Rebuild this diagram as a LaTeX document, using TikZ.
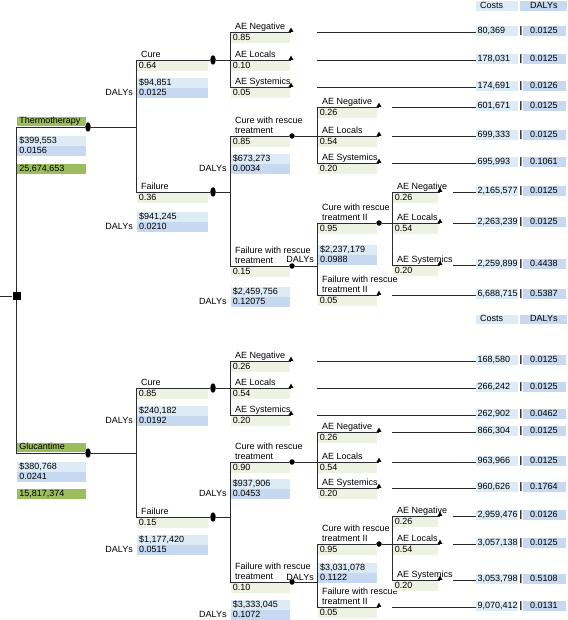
\documentclass[tikz,border=0pt]{standalone}
\usepackage{fontspec}
\setmainfont{Liberation Sans}
\usetikzlibrary{shapes.geometric,positioning}
\definecolor{Leaf}{HTML}{9CBD5C}
\definecolor{Pale}{HTML}{EEF2E2}
\definecolor{Sky}{HTML}{DCEBF5}
\definecolor{Steel}{HTML}{C6D9F0}
\definecolor{Wire}{HTML}{2B2B2B}
\tikzset{
  base/.style={font=\fontsize{9}{9.4}\selectfont,inner sep=0pt},
  branch/.style={base,anchor=south west,align=left,text depth=0pt},
  cell/.style={base,anchor=north west,inner xsep=2pt,minimum height=9.5pt,text height=6.5pt,text depth=1.8pt,align=left},
  prob/.style={cell,fill=Pale},
  cost/.style={cell,fill=Sky},
  daly/.style={cell,fill=Steel},
  arm/.style={cell,fill=Leaf},
  decision/.style={rectangle,fill=black,minimum size=8pt,inner sep=0pt},
  chanceA/.style={ellipse,fill=black,minimum width=5.5pt,minimum height=9.5pt,inner sep=0pt},
  chanceB/.style={circle,fill=black,minimum size=5.5pt,inner sep=0pt},
  term/.style={regular polygon,regular polygon sides=3,fill=black,minimum size=5.5pt,inner sep=0pt,anchor=south},
  edge/.style={Wire,line width=0.9pt}
}
\begin{document}
\begin{tikzpicture}[x=1pt,y=-1pt]
        \useasboundingbox (0,0) rectangle (567,620);
        \node[decision] (root) at (16.5,296) {};
        \coordinate (start) at (0,296);
        \foreach \n/\x/\y/\j in {Tc/88/127/136,Gc/88/453/136,TCu/213/60/230,TFa/213/192/230,GCu/213/388/230,GFa/213/517/230}
          {\node[chanceA] (\n) at (\x,\y) {}; \coordinate (J\n) at (\j,\y);}
        \foreach \n/\x/\y/\j in {TCr/292/136/317,TFr/292/266/317,GCr/292/462/317,GFr/292/582/317,TCr2/379/223/392,GCr2/379/544/392}
          {\node[chanceB] (\n) at (\x,\y) {}; \coordinate (J\n) at (\j,\y);}
        \foreach \n/\x/\y in {a1/291/32,a2/291/60,a3/291/87,a4/379/107,a5/379/136,a6/379/163,a7/440/192,a8/440/223,a9/440/265,a10/379/295,b1/291/361,b2/291/388,b3/291/415,b4/379/432,b5/379/462,b6/379/488,b7/440/516,b8/440/544,b9/440/580,b10/379/607}
          \node[term] (\n) at (\x,\y) {};

        \node[arm,anchor=south west,text width=65pt] (Tlab) at (17.2,126.5) {Thermotherapy};
        \node[arm,anchor=south west,text width=65pt] (Glab) at (17.2,452.5) {Glucantime};
        \node[arm,text width=65pt] (Tnet) at (17.2,164) {25,674,653};
        \node[arm,text width=65pt] (Gnet) at (17.2,489) {15,817,374};
        \foreach \n/\y/\c/\d in {Tc/136/{\$399,553}/0.0156,Gc/462/{\$380,768}/0.0241}
          {\node[cost,text width=65pt] (\n-c) at (17.2,\y) {\c};
           \node[daly,text width=65pt] (\n-d) at (\n-c.south west) {\d};}
        \foreach \n/\x/\y/\w/\c/\d in {TCu/137/78/67/{\$94,851}/0.0125,TFa/137/212/67/{\$941,245}/0.0210,GCu/137/406/67/{\$240,182}/0.0192,GFa/137/535/67/{\$1,177,420}/0.0515,TCr/230.7/154/55/{\$673,273}/0.0034,TFr/230.7/287/55/{\$2,459,756}/0.12075,GCr/230.7/479/55/{\$937,906}/0.0453,GFr/230.7/600/55/{\$3,333,045}/0.1072,TCr2/318/245/55/{\$2,237,179}/0.0988,GCr2/318/563/55/{\$3,031,078}/0.1122}
          {\node[cost,text width=\w pt] (\n-c) at (\x,\y) {\c};
           \node[daly,text width=\w pt] (\n-d) at (\n-c.south west) {\d};
           \node[base,anchor=east] (\n-l) at ([xshift=-4pt]\n-d.west) {DALYs};}

        \foreach \x/\y/\w/\t/\p [count=\i] in {136/60/67/Cure/0.64,136/192/67/Failure/0.36,136/388/67/Cure/0.85,136/517/67/Failure/0.15,
            230/32/55/AE Negative/0.85,230/60/55/AE Locals/0.10,230/87/55/AE Systemics/0.05,230/136/55/{Cure with rescue\\treatment}/0.85,230/266/55/{Failure with rescue\\treatment}/0.15,
            230/361/55/AE Negative/0.26,230/388/55/AE Locals/0.54,230/415/55/AE Systemics/0.20,230/462/55/{Cure with rescue\\treatment}/0.90,230/582/55/{Failure with rescue\\treatment}/0.10,
            317/107/55/AE Negative/0.26,317/136/55/AE Locals/0.54,317/163/55/AE Systemics/0.20,317/223/55/{Cure with rescue\\treatment II}/0.95,317/295/55/{Failure with rescue\\treatment II}/0.05,
            317/432/55/AE Negative/0.26,317/462/55/AE Locals/0.54,317/488/55/AE Systemics/0.20,317/544/55/{Cure with rescue\\treatment II}/0.95,317/607/55/{Failure with rescue\\treatment II}/0.05,
            392/192/41/AE Negative/0.26,392/223/41/AE Locals/0.54,392/265/41/AE Systemics/0.20,392/516/41/AE Negative/0.26,392/544/41/AE Locals/0.54,392/580/41/AE Systemics/0.20}
          {\node[branch] (lab\i) at (\x+5,\y-2.5) {\t};
           \node[prob,text width=\w pt] (pr\i) at (\x+0.7,\y+1) {\p};}

        \foreach \n/\y in {1/6,2/319.5}
          {\node[cost,anchor=west,inner xsep=4pt,text width=34pt] (hc\n) at (476,\y) {Costs};
           \node[daly,anchor=west,inner xsep=10pt,text width=27pt] (hd\n) at (520,\y) {DALYs};}
        \foreach \n/\x/\y/\c/\d in {1/317/32/{80,369}/0.0125,2/317/60/{178,031}/0.0125,3/317/87/{174,691}/0.0126,4/392/107/{601,671}/0.0125,5/392/136/{699,333}/0.0125,6/392/163/{695,993}/0.1061,7/453/192/{2,165,577}/0.0125,8/453/223/{2,263,239}/0.0125,9/453/265/{2,259,899}/0.4438,10/392/295/{6,688,715}/0.5387,
            11/317/361/{168,580}/0.0125,12/317/388/{266,242}/0.0125,13/317/415/{262,902}/0.0462,14/392/432/{866,304}/0.0125,15/392/462/{963,966}/0.0125,16/392/488/{960,626}/0.1764,17/453/516/{2,959,476}/0.0126,18/453/544/{3,057,138}/0.0125,19/453/580/{3,053,798}/0.5108,20/392/607/{9,070,412}/0.0131}
          {\coordinate (e\n) at (\x,\y);
           \node[cost,anchor=west,inner xsep=1.5pt,text width=39pt] (c\n) at (476,\y-1) {\c};
           \node[base,font=\fontsize{9.5}{9.5}\selectfont\bfseries] (bar\n) at (521,\y-1) {|};
           \node[daly,anchor=west,inner xsep=7pt,text width=29pt] (d\n) at (523,\y-1) {\d};
           \draw[edge] (e\n) -- (e\n -| c\n.west);}

        \draw[edge] (start) -- (root);
        \draw[edge] (root) |- (Tc);
        \draw[edge] (root) |- (Gc);
        \foreach \n in {Tc,Gc,TCu,TFa,GCu,GFa,TCr,TFr,GCr,GFr,TCr2,GCr2}
          \draw[edge] (\n) -- (J\n);
        \foreach \p/\c in {Tc/TCu,Tc/TFa,Gc/GCu,Gc/GFa,TFa/TCr,TFa/TFr,GFa/GCr,GFa/GFr,TFr/TCr2,GFr/GCr2}
          \draw[edge] (J\p) |- (\c);
        \foreach \p/\c in {TCu/a1,TCu/a2,TCu/a3,TCr/a4,TCr/a5,TCr/a6,TCr2/a7,TCr2/a8,TCr2/a9,TFr/a10,GCu/b1,GCu/b2,GCu/b3,GCr/b4,GCr/b5,GCr/b6,GCr2/b7,GCr2/b8,GCr2/b9,GFr/b10}
          \draw[edge] (J\p) |- (\c.south);
      \end{tikzpicture}
\end{document}
